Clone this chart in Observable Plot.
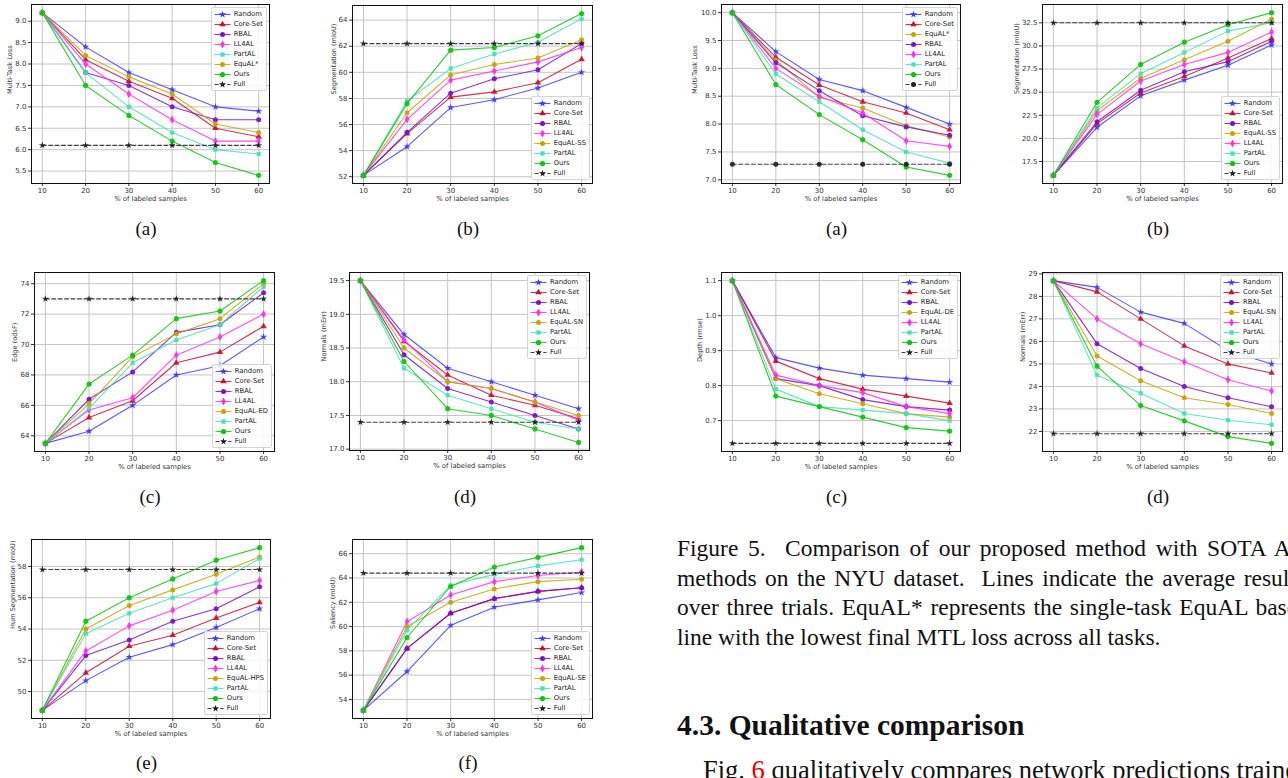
<!DOCTYPE html>
<html><head><meta charset="utf-8">
<script src="https://cdn.jsdelivr.net/npm/d3@7"></script>
<script src="https://cdn.jsdelivr.net/npm/@observablehq/plot@0.6"></script>
<style>
html,body{margin:0;padding:0;background:#fff;}
body{width:1288px;height:778px;overflow:hidden;position:relative;font-family:"DejaVu Sans",sans-serif;}
.panel{position:absolute;}
.panel svg{background:transparent;}
.legend{position:absolute;background:rgba(255,255,255,0.85);border:1px solid #d4d4d4;border-radius:2px;padding:1px 3px 1px 2px;font-family:"DejaVu Sans";font-size:6.8px;color:#222;}
.lrow{height:10px;line-height:10px;white-space:nowrap;display:flex;align-items:center;}
.lrow svg{margin-right:3px;flex:none;}
.cap{position:absolute;font-family:"Liberation Serif",serif;font-size:19px;color:#111;transform:translate(-50%,-50%);white-space:nowrap;}
.txt{position:absolute;font-family:"Liberation Serif",serif;color:#111;white-space:nowrap;}
.just{text-align:justify;text-align-last:justify;}
</style>
</head><body>
<script>
// ---------- data ----------
const pct = [10, 20, 30, 40, 50, 60];

// left block (multi-task benchmark with edge / normals / human parts / saliency)
const mtlLoss = {
  "Random":   [9.2, 8.4, 7.8, 7.4, 7.0, 6.9],
  "Core-Set": [9.2, 8.1, 7.6, 7.2, 6.5, 6.3],
  "RBAL":     [9.2, 7.8, 7.5, 7.0, 6.7, 6.7],
  "LL4AL":    [9.2, 8.0, 7.3, 6.7, 6.2, 6.2],
  "PartAL":   [9.2, 7.8, 7.0, 6.4, 6.0, 5.9],
  "EquAL*":   [9.2, 8.2, 7.7, 7.3, 6.6, 6.4],
  "Ours":     [9.2, 7.5, 6.8, 6.2, 5.7, 5.4],
  "Full":     [6.1, 6.1, 6.1, 6.1, 6.1, 6.1]
};
const segMiou = {
  "Random":   [52.1, 54.3, 57.3, 57.9, 58.8, 60.0],
  "Core-Set": [52.1, 55.3, 58.1, 58.5, 59.2, 61.0],
  "RBAL":     [52.1, 55.4, 58.4, 59.5, 60.2, 62.2],
  "LL4AL":    [52.1, 56.4, 59.4, 60.1, 60.8, 61.9],
  "EquAL-SS": [52.1, 56.9, 59.8, 60.6, 61.1, 62.5],
  "PartAL":   [52.1, 57.8, 60.3, 61.4, 62.3, 64.1],
  "Ours":     [52.1, 57.6, 61.7, 61.9, 62.8, 64.5],
  "Full":     [62.2, 62.2, 62.2, 62.2, 62.2, 62.2]
};
const edgeOdsf = {
  "Random":   [63.5, 64.3, 66.0, 68.0, 68.6, 70.5],
  "Core-Set": [63.5, 65.2, 66.3, 68.8, 69.5, 71.2],
  "RBAL":     [63.5, 66.4, 68.2, 70.8, 71.3, 73.4],
  "LL4AL":    [63.5, 65.7, 66.5, 69.3, 70.5, 72.0],
  "EquAL-ED": [63.5, 66.1, 69.2, 70.7, 71.7, 74.0],
  "PartAL":   [63.5, 65.8, 68.8, 70.3, 71.3, 73.8],
  "Ours":     [63.5, 67.4, 69.3, 71.7, 72.2, 74.2],
  "Full":     [73.0, 73.0, 73.0, 73.0, 73.0, 73.0]
};
const normalsErr = {
  "Random":   [19.5, 18.7, 18.2, 18.0, 17.8, 17.6],
  "Core-Set": [19.5, 18.6, 18.1, 17.8, 17.65, 17.45],
  "RBAL":     [19.5, 18.4, 17.9, 17.7, 17.5, 17.3],
  "LL4AL":    [19.5, 18.62, 18.0, 17.9, 17.7, 17.43],
  "EquAL-SN": [19.5, 18.5, 18.0, 17.9, 17.7, 17.5],
  "PartAL":   [19.5, 18.2, 17.8, 17.6, 17.4, 17.3],
  "Ours":     [19.5, 18.3, 17.6, 17.5, 17.3, 17.1],
  "Full":     [17.4, 17.4, 17.4, 17.4, 17.4, 17.4]
};
const humSeg = {
  "Random":    [48.8, 50.7, 52.2, 53.0, 54.1, 55.3],
  "Core-Set":  [48.8, 51.2, 52.9, 53.6, 54.7, 55.7],
  "RBAL":      [48.8, 52.3, 53.3, 54.5, 55.3, 56.7],
  "LL4AL":     [48.8, 52.6, 54.2, 55.2, 56.4, 57.1],
  "EquAL-HPS": [48.8, 54.0, 55.5, 56.5, 57.5, 58.6],
  "PartAL":    [48.8, 53.7, 55.0, 56.0, 56.9, 58.5],
  "Ours":      [48.8, 54.5, 56.0, 57.2, 58.4, 59.2],
  "Full":      [57.8, 57.8, 57.8, 57.8, 57.8, 57.8]
};
const saliency = {
  "Random":   [53.1, 56.3, 60.1, 61.6, 62.2, 62.8],
  "Core-Set": [53.1, 58.2, 61.1, 62.3, 62.9, 63.2],
  "RBAL":     [53.1, 58.2, 61.1, 62.3, 62.9, 63.2],
  "LL4AL":    [53.1, 60.4, 62.6, 63.7, 64.2, 64.5],
  "EquAL-SE": [53.1, 60.0, 62.0, 63.1, 63.7, 63.9],
  "PartAL":   [53.1, 59.7, 63.4, 64.3, 65.0, 65.5],
  "Ours":     [53.1, 59.1, 63.3, 64.9, 65.7, 66.5],
  "Full":     [64.4, 64.4, 64.4, 64.4, 64.4, 64.4]
};

// right block: NYU dataset
const nyuMtlLoss = {
  "Random":   [10.0, 9.3, 8.8, 8.6, 8.3, 8.0],
  "Core-Set": [10.0, 9.2, 8.7, 8.4, 8.2, 7.9],
  "EquAL*":   [10.0, 9.15, 8.48, 8.29, 7.97, 7.77],
  "RBAL":     [10.0, 9.1, 8.6, 8.15, 7.95, 7.8],
  "LL4AL":    [10.0, 9.0, 8.5, 8.2, 7.7, 7.6],
  "PartAL":   [10.0, 8.9, 8.4, 7.9, 7.5, 7.3],
  "Ours":     [10.0, 8.71, 8.17, 7.72, 7.23, 7.08],
  "Full":     [7.28, 7.28, 7.28, 7.28, 7.28, 7.28]
};
const nyuSeg = {
  "Random":   [16.0, 21.2, 24.6, 26.3, 27.9, 30.1],
  "Core-Set": [16.0, 21.6, 24.9, 26.7, 28.7, 30.8],
  "RBAL":     [16.0, 21.8, 25.2, 27.2, 28.3, 30.5],
  "EquAL-SS": [16.0, 23.0, 26.5, 28.5, 30.5, 32.9],
  "LL4AL":    [16.0, 22.6, 26.2, 28.0, 29.3, 31.5],
  "PartAL":   [16.0, 23.3, 27.0, 29.3, 31.6, 32.5],
  "Ours":     [16.0, 23.9, 28.0, 30.4, 32.3, 33.6],
  "Full":     [32.5, 32.5, 32.5, 32.5, 32.5, 32.5]
};
const nyuDepth = {
  "Random":   [1.1, 0.88, 0.85, 0.83, 0.82, 0.81],
  "Core-Set": [1.1, 0.87, 0.82, 0.79, 0.77, 0.75],
  "RBAL":     [1.1, 0.82, 0.80, 0.76, 0.74, 0.73],
  "EquAL-DE": [1.1, 0.82, 0.777, 0.748, 0.72, 0.71],
  "LL4AL":    [1.1, 0.83, 0.80, 0.78, 0.74, 0.72],
  "PartAL":   [1.1, 0.79, 0.74, 0.73, 0.72, 0.70],
  "Ours":     [1.1, 0.77, 0.74, 0.71, 0.68, 0.67],
  "Full":     [0.635, 0.635, 0.635, 0.635, 0.635, 0.635]
};
const nyuNormals = {
  "Random":   [28.7, 28.4, 27.3, 26.8, 25.6, 25.0],
  "Core-Set": [28.7, 28.2, 27.0, 25.8, 25.0, 24.6],
  "RBAL":     [28.7, 25.9, 24.8, 24.0, 23.5, 23.1],
  "EquAL-SN": [28.7, 25.35, 24.25, 23.5, 23.2, 22.8],
  "LL4AL":    [28.7, 27.0, 25.9, 25.1, 24.3, 23.8],
  "PartAL":   [28.7, 24.5, 23.7, 22.8, 22.5, 22.3],
  "Ours":     [28.7, 24.9, 23.15, 22.47, 21.77, 21.47],
  "Full":     [21.9, 21.9, 21.9, 21.9, 21.9, 21.9]
};

// ---------- styles ----------
const styles = {
  "Random":   {color: "#3b3bff", symbol: "star", r: 2.3},
  "Core-Set": {color: "#c8102e", symbol: "triangle", r: 2.4},
  "RBAL":     {color: "#7a0fc8", symbol: "circle", r: 2.5},
  "LL4AL":    {color: "#ff2ef0", symbol: "diamond", r: 2.5},
  "PartAL":   {color: "#44e2b4", symbol: "square", r: 2.4},
  "EquAL":    {color: "#c6a400", symbol: "circle", r: 2.5},
  "Ours":     {color: "#0cc40c", symbol: "circle", r: 2.6},
  "Full":     {color: "#1e1e1e", symbol: "star", r: 2.2, dash: "4,2.4"}
};
const styleOf = (name) => name.startsWith("EquAL") ? styles.EquAL : styles[name];
const d3Sym = {circle: d3.symbolCircle, star: d3.symbolStar, triangle: d3.symbolTriangle, square: d3.symbolSquare, diamond: d3.symbolDiamond};

function makePanel(cfg) {
  const mL = 44, mR = 6, mT = 6, mB = 28;
  const [fx0, fx1, fy0, fy1] = cfg.frame;
  const W = (fx1 - fx0) + mL + mR, H = (fy1 - fy0) + mT + mB;
  const names = Object.keys(cfg.data);
  const rows = names.flatMap(n => pct.map((x, i) => ({series: n, x, y: cfg.data[n][i]})));
  const [lo, hi] = d3.extent(rows, d => d.y);
  const pad = (hi - lo) * 0.05;
  const [xlo, xhi] = d3.extent(pct);
  const xpad = (xhi - xlo) * 0.05;
  const yDomain = [lo - pad, hi + pad];
  const st = cfg.step;
  const yTicks = d3.range(Math.ceil(yDomain[0] / st - 1e-9), Math.floor(yDomain[1] / st + 1e-9) + 1).map(k => +(k * st).toFixed(6));

  const marks = [
    Plot.ruleX(pct, {stroke: "#c4c4c4", strokeWidth: 1}),
    Plot.ruleY(yTicks, {stroke: "#c4c4c4", strokeWidth: 1})
  ];
  for (const n of names) {
    const s = styleOf(n);
    const sub = rows.filter(d => d.series === n);
    const sym = (n === "Full" && cfg.fullSymbol) ? cfg.fullSymbol : s.symbol;
    const rr = (n === "Full" && sym === "circle") ? 2.5 : s.r;
    marks.push(Plot.line(sub, {x: "x", y: "y", stroke: s.color, strokeWidth: 1.1, strokeOpacity: 0.85, strokeDasharray: s.dash}));
    marks.push(Plot.dot(sub, {x: "x", y: "y", symbol: sym, fill: s.color, fillOpacity: 0.92, stroke: "none", r: rr}));
  }
  marks.push(Plot.frame({stroke: "#111", strokeWidth: 1}));
  marks.push(Plot.text([cfg.ylabel], {frameAnchor: "left", rotate: -90, dx: -cfg.ylabOff, fontSize: 6.6, fill: "#333"}));
  marks.push(Plot.text(["% of labeled samples"], {frameAnchor: "bottom", dy: 17, fontSize: 6.8, fill: "#333"}));

  const plot = Plot.plot({
    width: W, height: H,
    marginLeft: mL, marginRight: mR, marginTop: mT, marginBottom: mB,
    style: {fontFamily: "DejaVu Sans", fontSize: "7px", color: "#333", background: "transparent", overflow: "visible"},
    x: {domain: [xlo - xpad, xhi + xpad], ticks: pct, tickSize: 3, tickPadding: 2, label: null, tickFormat: d3.format("d")},
    y: {domain: yDomain, ticks: yTicks, tickSize: 3, tickPadding: 2, label: null, tickFormat: d3.format(cfg.fmt)},
    marks
  });

  const div = document.createElement("div");
  div.className = "panel";
  div.style.left = (fx0 - mL) + "px";
  div.style.top = (fy0 - mT) + "px";
  div.style.width = W + "px";
  div.style.height = H + "px";
  div.appendChild(plot);

  // legend
  const lg = document.createElement("div");
  lg.className = "legend";
  lg.style.right = (mR + 2) + "px";
  if (cfg.legend === "tr") lg.style.top = (mT + 3) + "px";
  else lg.style.bottom = (mB + 3) + "px";
  for (const n of names) {
    const s = styleOf(n);
    const sym = (n === "Full" && cfg.fullSymbol) ? cfg.fullSymbol : s.symbol;
    const rr = (n === "Full" && sym === "circle") ? 2.5 : s.r;
    const path = d3.symbol(d3Sym[sym], Math.PI * rr * rr)();
    const row = document.createElement("div");
    row.className = "lrow";
    row.innerHTML = `<svg width="17" height="9"><line x1="0.5" x2="16.5" y1="4.5" y2="4.5" stroke="${s.color}" stroke-opacity="0.85" stroke-width="1.1" ${s.dash ? `stroke-dasharray="${s.dash}"` : ""}/><path transform="translate(8.5,4.5)" d="${path}" fill="${s.color}"/></svg><span>${n}</span>`;
    lg.appendChild(row);
  }
  div.appendChild(lg);
  document.body.appendChild(div);

  const cap = document.createElement("div");
  cap.className = "cap";
  cap.textContent = cfg.caption;
  cap.style.left = ((fx0 + fx1) / 2 - 4) + "px";
  cap.style.top = cfg.capY + "px";
  document.body.appendChild(cap);
}

const panels = [
  {data: mtlLoss,    frame: [31, 269, 4, 183],    ylabel: "Multi-Task Loss",        ylabOff: 22, step: 0.5, fmt: ".1f", legend: "tr", caption: "(a)", capY: 229},
  {data: segMiou,    frame: [352, 592, 5, 183],   ylabel: "Segmentation (mIoU)",    ylabOff: 19, step: 2,   fmt: "d",   legend: "br", caption: "(b)", capY: 229},
  {data: edgeOdsf,   frame: [34, 274, 272, 451],  ylabel: "Edge (odsF)",            ylabOff: 20, step: 2,   fmt: "d",   legend: "br", caption: "(c)", capY: 497},
  {data: normalsErr, frame: [349, 589, 272, 450], ylabel: "Normals (mErr)",         ylabOff: 26, step: 0.5, fmt: ".1f", legend: "tr", caption: "(d)", capY: 497},
  {data: humSeg,     frame: [31, 270, 539, 718],  ylabel: "Hum Segmentation (mIoU)", ylabOff: 19, step: 2,  fmt: "d",   legend: "br", caption: "(e)", capY: 763},
  {data: saliency,   frame: [352, 592, 539, 718], ylabel: "Saliency (mIoU)",        ylabOff: 20, step: 2,   fmt: "d",   legend: "br", caption: "(f)", capY: 763},
  {data: nyuMtlLoss, frame: [721, 960, 4, 183],   ylabel: "Multi-Task Loss",        ylabOff: 27, step: 0.5, fmt: ".1f", legend: "tr", caption: "(a)", capY: 229, fullSymbol: "circle"},
  {data: nyuSeg,     frame: [1042, 1282, 4, 183], ylabel: "Segmentation (mIoU)",    ylabOff: 26, step: 2.5, fmt: ".1f", legend: "br", caption: "(b)", capY: 229},
  {data: nyuDepth,   frame: [721, 960, 272, 451], ylabel: "Depth (rmse)",           ylabOff: 22, step: 0.1, fmt: ".1f", legend: "tr", caption: "(c)", capY: 497},
  {data: nyuNormals, frame: [1042, 1282, 272, 451], ylabel: "Normals (mErr)",       ylabOff: 20, step: 1,   fmt: "d",   legend: "tr", caption: "(d)", capY: 497}
];
panels.forEach(makePanel);

// ---------- figure caption and following text ----------
const captionLines = [
  "Figure 5.&nbsp; Comparison of our proposed method with SOTA AL",
  "methods on the NYU dataset.&nbsp; Lines indicate the average results",
  "over three trials. EquAL* represents the single-task EquAL base-",
  "line with the lowest final MTL loss across all tasks."
];
const capTops = [548, 578, 607, 637];
captionLines.forEach((t, i) => {
  const d = document.createElement("div");
  d.className = "txt" + (i < 3 ? " just" : "");
  d.style.left = "677px";
  d.style.top = (capTops[i] - 14) + "px";
  d.style.fontSize = "23.5px";
  d.style.lineHeight = "28px";
  if (i < 3) { d.style.width = "628px"; d.style.whiteSpace = "normal"; }
  d.innerHTML = t;
  document.body.appendChild(d);
});
const h = document.createElement("div");
h.className = "txt";
h.style.left = "677px"; h.style.top = "707px";
h.style.fontSize = "29.5px"; h.style.fontWeight = "bold"; h.style.lineHeight = "36px";
h.textContent = "4.3. Qualitative comparison";
document.body.appendChild(h);
const p = document.createElement("div");
p.className = "txt";
p.style.left = "703px"; p.style.top = "754px";
p.style.fontSize = "26.5px"; p.style.lineHeight = "32px";
p.innerHTML = 'Fig. <span style="color:#e00000">6</span> qualitatively compares network predictions trained';
document.body.appendChild(p);
</script>
</body></html>
